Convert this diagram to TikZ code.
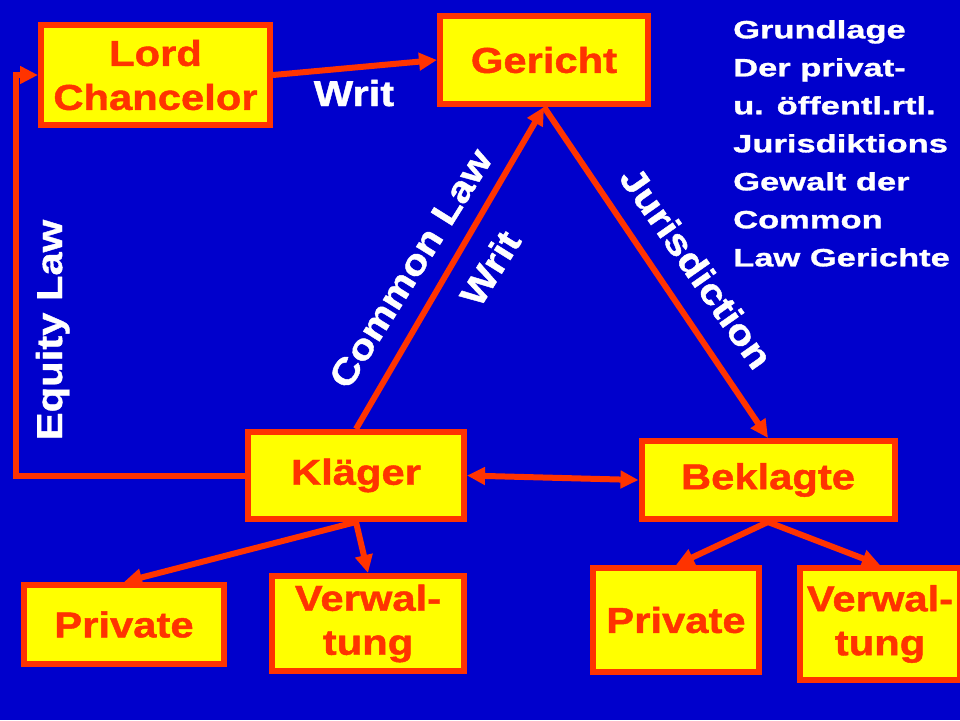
\documentclass[tikz,border=0pt]{standalone}
\usepackage{fontspec}
\usetikzlibrary{arrows.meta}
\newfontfamily\boxface{Liberation Sans}[FakeStretch=1.16, FakeBold=1.2]
\newfontfamily\noteface{Liberation Sans}[FakeStretch=1.38, FakeBold=1.2]
\definecolor{bgblue}{RGB}{0,0,204}
\definecolor{linered}{RGB}{255,51,0}
\definecolor{boxyellow}{RGB}{255,255,0}
\begin{document}
\begin{tikzpicture}[x=1pt, y=-1pt,
    box/.style={draw=linered, fill=boxyellow, line width=6pt, text=linered, align=center, inner sep=0pt,
        font=\boxface\bfseries\fontsize{36}{44}\selectfont},
    link/.style={draw=linered, line width=6pt, -{Triangle[length=18pt, width=17pt]}},
    lbl/.style={text=white, inner sep=0pt, anchor=base, font=\boxface\bfseries\fontsize{36}{44}\selectfont}]
            \fill[bgblue] (0,0) rectangle (960,720);
            \useasboundingbox (0,0) rectangle (960,720);
            \node[box, minimum width=229pt, minimum height=100pt] (lord) at (155.5,75) {Lord\\Chancelor};
            \node[box, minimum width=208pt, minimum height=88pt] (gericht) at (544,60) {Gericht};
            \node[box, minimum width=216pt, minimum height=87pt] (klaeger) at (356,475.5) {Kläger};
            \node[box, minimum width=253pt, minimum height=78pt] (beklagte) at (768,480) {Beklagte};
            \node[box, minimum width=200pt, minimum height=79pt] (privl) at (124,624.5) {Private};
            \node[box, minimum width=192pt, minimum height=95pt] (verwl) at (368,623.5) {Verwal-\\tung};
            \node[box, minimum width=166pt, minimum height=104pt] (privr) at (676,620) {Private};
            \node[box, minimum width=160pt, minimum height=112pt] (verwr) at (880,624) {Verwal-\\tung};
            \draw[link] (lord.east) -- (gericht.west);
            \draw[link] (klaeger.west) -| ([xshift=-22pt]lord.west) -- (lord.west);
            \draw[link] (klaeger.north) -- (gericht.south);
            \draw[link] (gericht.south) -- (beklagte.north);
            \draw[link, {Triangle[length=18pt, width=17pt]}-{Triangle[length=18pt, width=17pt]}] (klaeger.east) -- (beklagte.west);
            \draw[link] (klaeger.south) -- (privl.north);
            \draw[link] (klaeger.south) -- (verwl.north);
            \draw[link] (beklagte.south) -- (privr.north);
            \draw[link] (beklagte.south) -- (verwr.north);
            \node[lbl] (writa) at (354,106) {Writ};
            \node[lbl, rotate=90] (equity) at (62,330) {Equity Law};
            \node[lbl, rotate=58] (common) at (421,275) {Common Law};
            \node[lbl, rotate=58] (writb) at (501,275) {Writ};
            \node[lbl, rotate=-55] (jurisdiction) at (686,275) {Jurisdiction};
            \node[text=white, inner sep=0pt, anchor=north west, align=left,
                font=\noteface\bfseries\fontsize{25}{38}\selectfont] (note) at (733,20)
                {Grundlage\\Der privat-\\u. öffentl.rtl.\\Jurisdiktions\\Gewalt der\\Common\\Law Gerichte};
        \end{tikzpicture}
\end{document}
